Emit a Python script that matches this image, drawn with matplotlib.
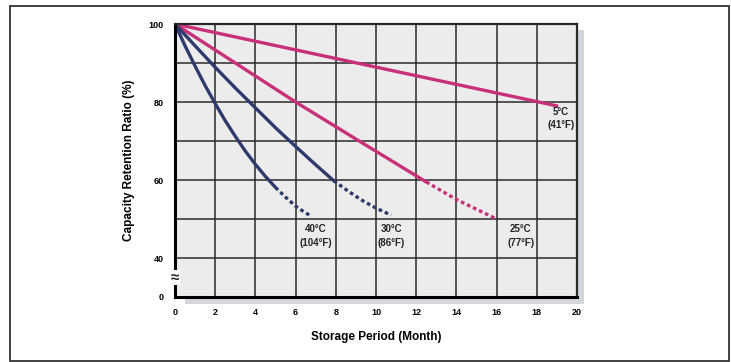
import matplotlib.pyplot as plt
from matplotlib.patches import Rectangle

# Storage period (month) vs capacity retention ratio (%)
# the y axis is broken: everything below 40 is squeezed, "0" sits at 30
months_5c = [0, 19]
ret_5c = [100, 79]

months_25c = [0, 3, 6, 9, 12.5]
ret_25c = [100, 90, 80, 70.5, 59.5]
months_25c_ext = [12.5, 14, 16]
ret_25c_ext = [59.5, 55, 50]

months_30c = [0, 1, 2, 3, 4, 5, 6, 7, 7.9]
ret_30c = [100, 94.4, 88.9, 83.6, 78.5, 73.4, 68.6, 63.9, 59.8]
months_30c_ext = [7.9, 8.6, 9.3, 10, 10.75]
ret_30c_ext = [59.8, 57.2, 54.8, 52.8, 51]

months_40c = [0, 0.5, 1, 1.5, 2, 2.5, 3, 3.5, 4, 4.5, 5]
ret_40c = [100, 94.4, 89.2, 84.2, 79.6, 75.2, 71.2, 67.4, 64.0, 60.9, 58.1]
months_40c_ext = [5, 5.5, 6, 6.4, 6.75]
ret_40c_ext = [58.1, 55.6, 53.3, 51.9, 50.8]

x_ticks = [0, 2, 4, 6, 8, 10, 12, 14, 16, 18, 20]
y_ticks = [30, 40, 50, 60, 70, 80, 90, 100]
y_labels = ["0", "40", "", "60", "", "80", "", "100"]

labels = ["5°C\n(41°F)", "25°C\n(77°F)", "30°C\n(86°F)", "40°C\n(104°F)"]
label_pos = [(19.2, 75.8), (17.2, 45.6), (10.75, 45.6), (7.0, 45.6)]

pink = "#c8317a"
navy = "#2e3a6c"

plt.rcParams['font.family'] = ['Liberation Sans', 'DejaVu Sans']

fig = plt.figure(figsize=(7.31, 3.62), dpi=100)

# outer frame of the picture
fig.patches.append(Rectangle((10 / 731, 1 / 362), 719 / 731, 355 / 362, transform=fig.transFigure,
                             fill=False, edgecolor="#333333", linewidth=1.3))

# drop shadow behind the plot area
fig.patches.append(Rectangle((185 / 731, 1 - 304 / 362), 399 / 731, 274 / 362, transform=fig.transFigure,
                             facecolor="#d3d7dc", edgecolor="none", zorder=0))

ax = fig.add_axes([175 / 731, 1 - 297 / 362, 402 / 731, 273 / 362])
ax.set_zorder(2)

ax.set_facecolor("#ececec")
ax.set_xlim(0, 20)
ax.set_ylim(30, 100)
ax.set_xticks(x_ticks)
ax.set_yticks(y_ticks)
ax.set_yticklabels(y_labels)
ax.tick_params(length=0, labelsize=6.5, pad=8)
for t in ax.get_xticklabels() + ax.get_yticklabels():
    t.set_fontweight("bold")
ax.grid(True, color="#2a2a2a", linewidth=1.1)
ax.set_axisbelow(True)
for side in ["top", "right"]:
    ax.spines[side].set_linewidth(1.6)
    ax.spines[side].set_color("#2a2a2a")
for side in ["left", "bottom"]:
    ax.spines[side].set_linewidth(2.2)
    ax.spines[side].set_color("black")

lw = 2.4
dash = (0, (1.1, 0.9))
ax.plot(months_5c, ret_5c, color=pink, lw=lw, solid_capstyle="round")
ax.plot(months_25c, ret_25c, color=pink, lw=lw, solid_capstyle="round")
ax.plot(months_25c_ext, ret_25c_ext, color=pink, lw=lw, linestyle=dash)
ax.plot(months_30c, ret_30c, color=navy, lw=lw, solid_capstyle="round")
ax.plot(months_30c_ext, ret_30c_ext, color=navy, lw=lw, linestyle=dash)
ax.plot(months_40c, ret_40c, color=navy, lw=lw, solid_capstyle="round")
ax.plot(months_40c_ext, ret_40c_ext, color=navy, lw=lw, linestyle=dash)

for txt, (x, y) in zip(labels, label_pos):
    ax.text(x, y, txt, ha="center", va="center", fontsize=7, fontweight="bold",
            linespacing=1.45, color="#222222")

# break mark on the y axis
ax.text(0, 35, "≈", ha="center", va="center", fontsize=11, fontweight="bold",
        color="#222222", clip_on=False,
        bbox=dict(boxstyle="square,pad=0.05", facecolor="white", edgecolor="none"))

ax.set_xlabel("Storage Period (Month)", fontsize=8.5, fontweight="bold", labelpad=10)
ax.set_ylabel("Capacity Retention Ratio (%)", fontsize=8.5, fontweight="bold", labelpad=10)

fig.savefig("out.png", dpi=100)
